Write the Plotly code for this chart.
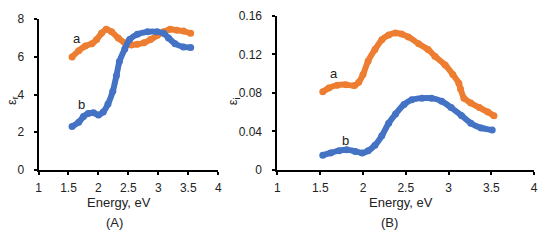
import plotly.graph_objects as go

# Panel A: real part of permittivity
a_r_energy = [1.56, 1.67, 1.78, 1.89, 1.97, 2.05, 2.13, 2.22, 2.33, 2.44, 2.55, 2.65, 2.76, 2.87, 2.98, 3.09, 3.20, 3.31, 3.42, 3.54]
a_r_eps = [6.0, 6.33, 6.58, 6.7, 6.92, 7.25, 7.47, 7.33, 7.0, 6.75, 6.63, 6.67, 6.75, 6.92, 7.13, 7.33, 7.47, 7.42, 7.37, 7.25]
b_r_energy = [1.56, 1.67, 1.75, 1.83, 1.92, 2.0, 2.08, 2.16, 2.24, 2.30, 2.35, 2.44, 2.52, 2.65, 2.82, 2.98, 3.09, 3.17, 3.28, 3.42, 3.54]
b_r_eps = [2.3, 2.53, 2.83, 3.0, 3.03, 2.92, 3.08, 3.5, 4.17, 5.0, 5.75, 6.42, 6.92, 7.2, 7.33, 7.33, 7.25, 7.0, 6.7, 6.53, 6.5]

# Panel B: imaginary part of permittivity
a_i_energy = [1.53, 1.6, 1.7, 1.8, 1.9, 1.95, 2.0, 2.06, 2.14, 2.22, 2.3, 2.38, 2.45, 2.53, 2.65, 2.76, 2.84, 2.96, 3.05, 3.12, 3.14, 3.18, 3.26, 3.36, 3.46, 3.53]
a_i_eps = [0.081, 0.085, 0.088, 0.0885, 0.0875, 0.091, 0.099, 0.113, 0.125, 0.135, 0.140, 0.142, 0.141, 0.138, 0.131, 0.125, 0.118, 0.109, 0.099, 0.090, 0.084, 0.0745, 0.0695, 0.0647, 0.060, 0.0563]
b_i_energy = [1.53, 1.62, 1.72, 1.81, 1.91, 1.99, 2.06, 2.14, 2.22, 2.3, 2.38, 2.48, 2.57, 2.69, 2.8, 2.92, 3.03, 3.15, 3.26, 3.38, 3.51]
b_i_eps = [0.0153, 0.0176, 0.020, 0.0208, 0.0192, 0.0176, 0.0198, 0.0257, 0.0354, 0.0485, 0.058, 0.068, 0.0728, 0.0745, 0.0745, 0.0712, 0.0647, 0.0566, 0.0485, 0.0436, 0.0413]

x_ticks = [1, 1.5, 2, 2.5, 3, 3.5, 4]
x_tick_labels = ["1", "1.5", "2", "2.5", "3", "3.5", "4"]
yA_ticks = [0, 2, 4, 6, 8]
yA_tick_labels = ["0", "2", "4", "6", "8"]
yB_ticks = [0, 0.04, 0.08, 0.12, 0.16]
yB_tick_labels = ["0", "0.04", "0.08", "0.12", "0.16"]

ORANGE = "#ED7D31"
BLUE = "#4472C4"
FONT = "Liberation Sans, Arial, sans-serif"

fig = go.Figure()

def add(x, y, color, xa, ya):
    fig.add_trace(go.Scatter(x=x, y=y, mode="lines+markers", xaxis=xa, yaxis=ya,
                             line=dict(color=color, width=6, shape="spline", smoothing=0.6),
                             marker=dict(color=color, size=7), showlegend=False,
                             hoverinfo="skip"))

add(a_r_energy, a_r_eps, ORANGE, "x", "y")
add(b_r_energy, b_r_eps, BLUE, "x", "y")
add(a_i_energy, a_i_eps, ORANGE, "x2", "y2")
add(b_i_energy, b_i_eps, BLUE, "x2", "y2")

W, H = 548, 240
axis_common = dict(showgrid=False, zeroline=False, showline=True, linecolor="black", linewidth=2,
                   ticks="outside", ticklen=3, tickwidth=2, tickcolor="black",
                   tickfont=dict(family=FONT, size=12, color="#222"))

fig.update_layout(
    width=W, height=H, margin=dict(l=0, r=0, t=0, b=0),
    paper_bgcolor="white", plot_bgcolor="white",
    font=dict(family=FONT, size=12, color="black"),
    xaxis=dict(domain=[36 / W, 218 / W], range=[1, 4], tickvals=x_ticks, ticktext=x_tick_labels,
               anchor="y", ticklabelstandoff=3, **axis_common),
    yaxis=dict(domain=[1 - 173 / H, 1 - 13 / H], range=[0, 8], tickvals=yA_ticks, ticktext=yA_tick_labels,
               anchor="x", ticklabelstandoff=7, **axis_common),
    xaxis2=dict(domain=[278 / W, 538 / W], range=[1, 4], tickvals=x_ticks, ticktext=x_tick_labels,
                anchor="y2", ticklabelstandoff=3, **axis_common),
    yaxis2=dict(domain=[1 - 173 / H, 1 - 9.3 / H], range=[0, 0.16], tickvals=yB_ticks, ticktext=yB_tick_labels,
                anchor="x2", ticklabelstandoff=8, **axis_common),
)

ann = []
def text(x, y, t, xref="paper", yref="paper", size=13, angle=0):
    ann.append(dict(x=x, y=y, xref=xref, yref=yref, text=t, showarrow=False,
                    font=dict(family=FONT, size=size, color="#222"), textangle=angle,
                    xanchor="center", yanchor="middle"))

text(1.64, 7.0, "a", "x", "y")
text(1.71, 3.45, "b", "x", "y")
text(1.66, 0.0998, "a", "x2", "y2")
text(1.79, 0.0305, "b", "x2", "y2")
text(117 / W, 1 - 208 / H, "Energy, eV")
text(113 / W, 1 - 229 / H, "(A)")
text(403 / W, 1 - 208 / H, "Energy, eV")
text(392 / W, 1 - 229 / H, "(B)")
text(9 / W, 1 - 99 / H, "ε<sub>r</sub>", angle=-90)
text(233 / W, 1 - 100 / H, "ε<sub>i</sub>", angle=-90)
fig.update_layout(annotations=ann)

fig.write_html("out.html", config={"displayModeBar": False},
               post_script="document.body.style.margin='0';document.body.style.overflow='hidden';")
